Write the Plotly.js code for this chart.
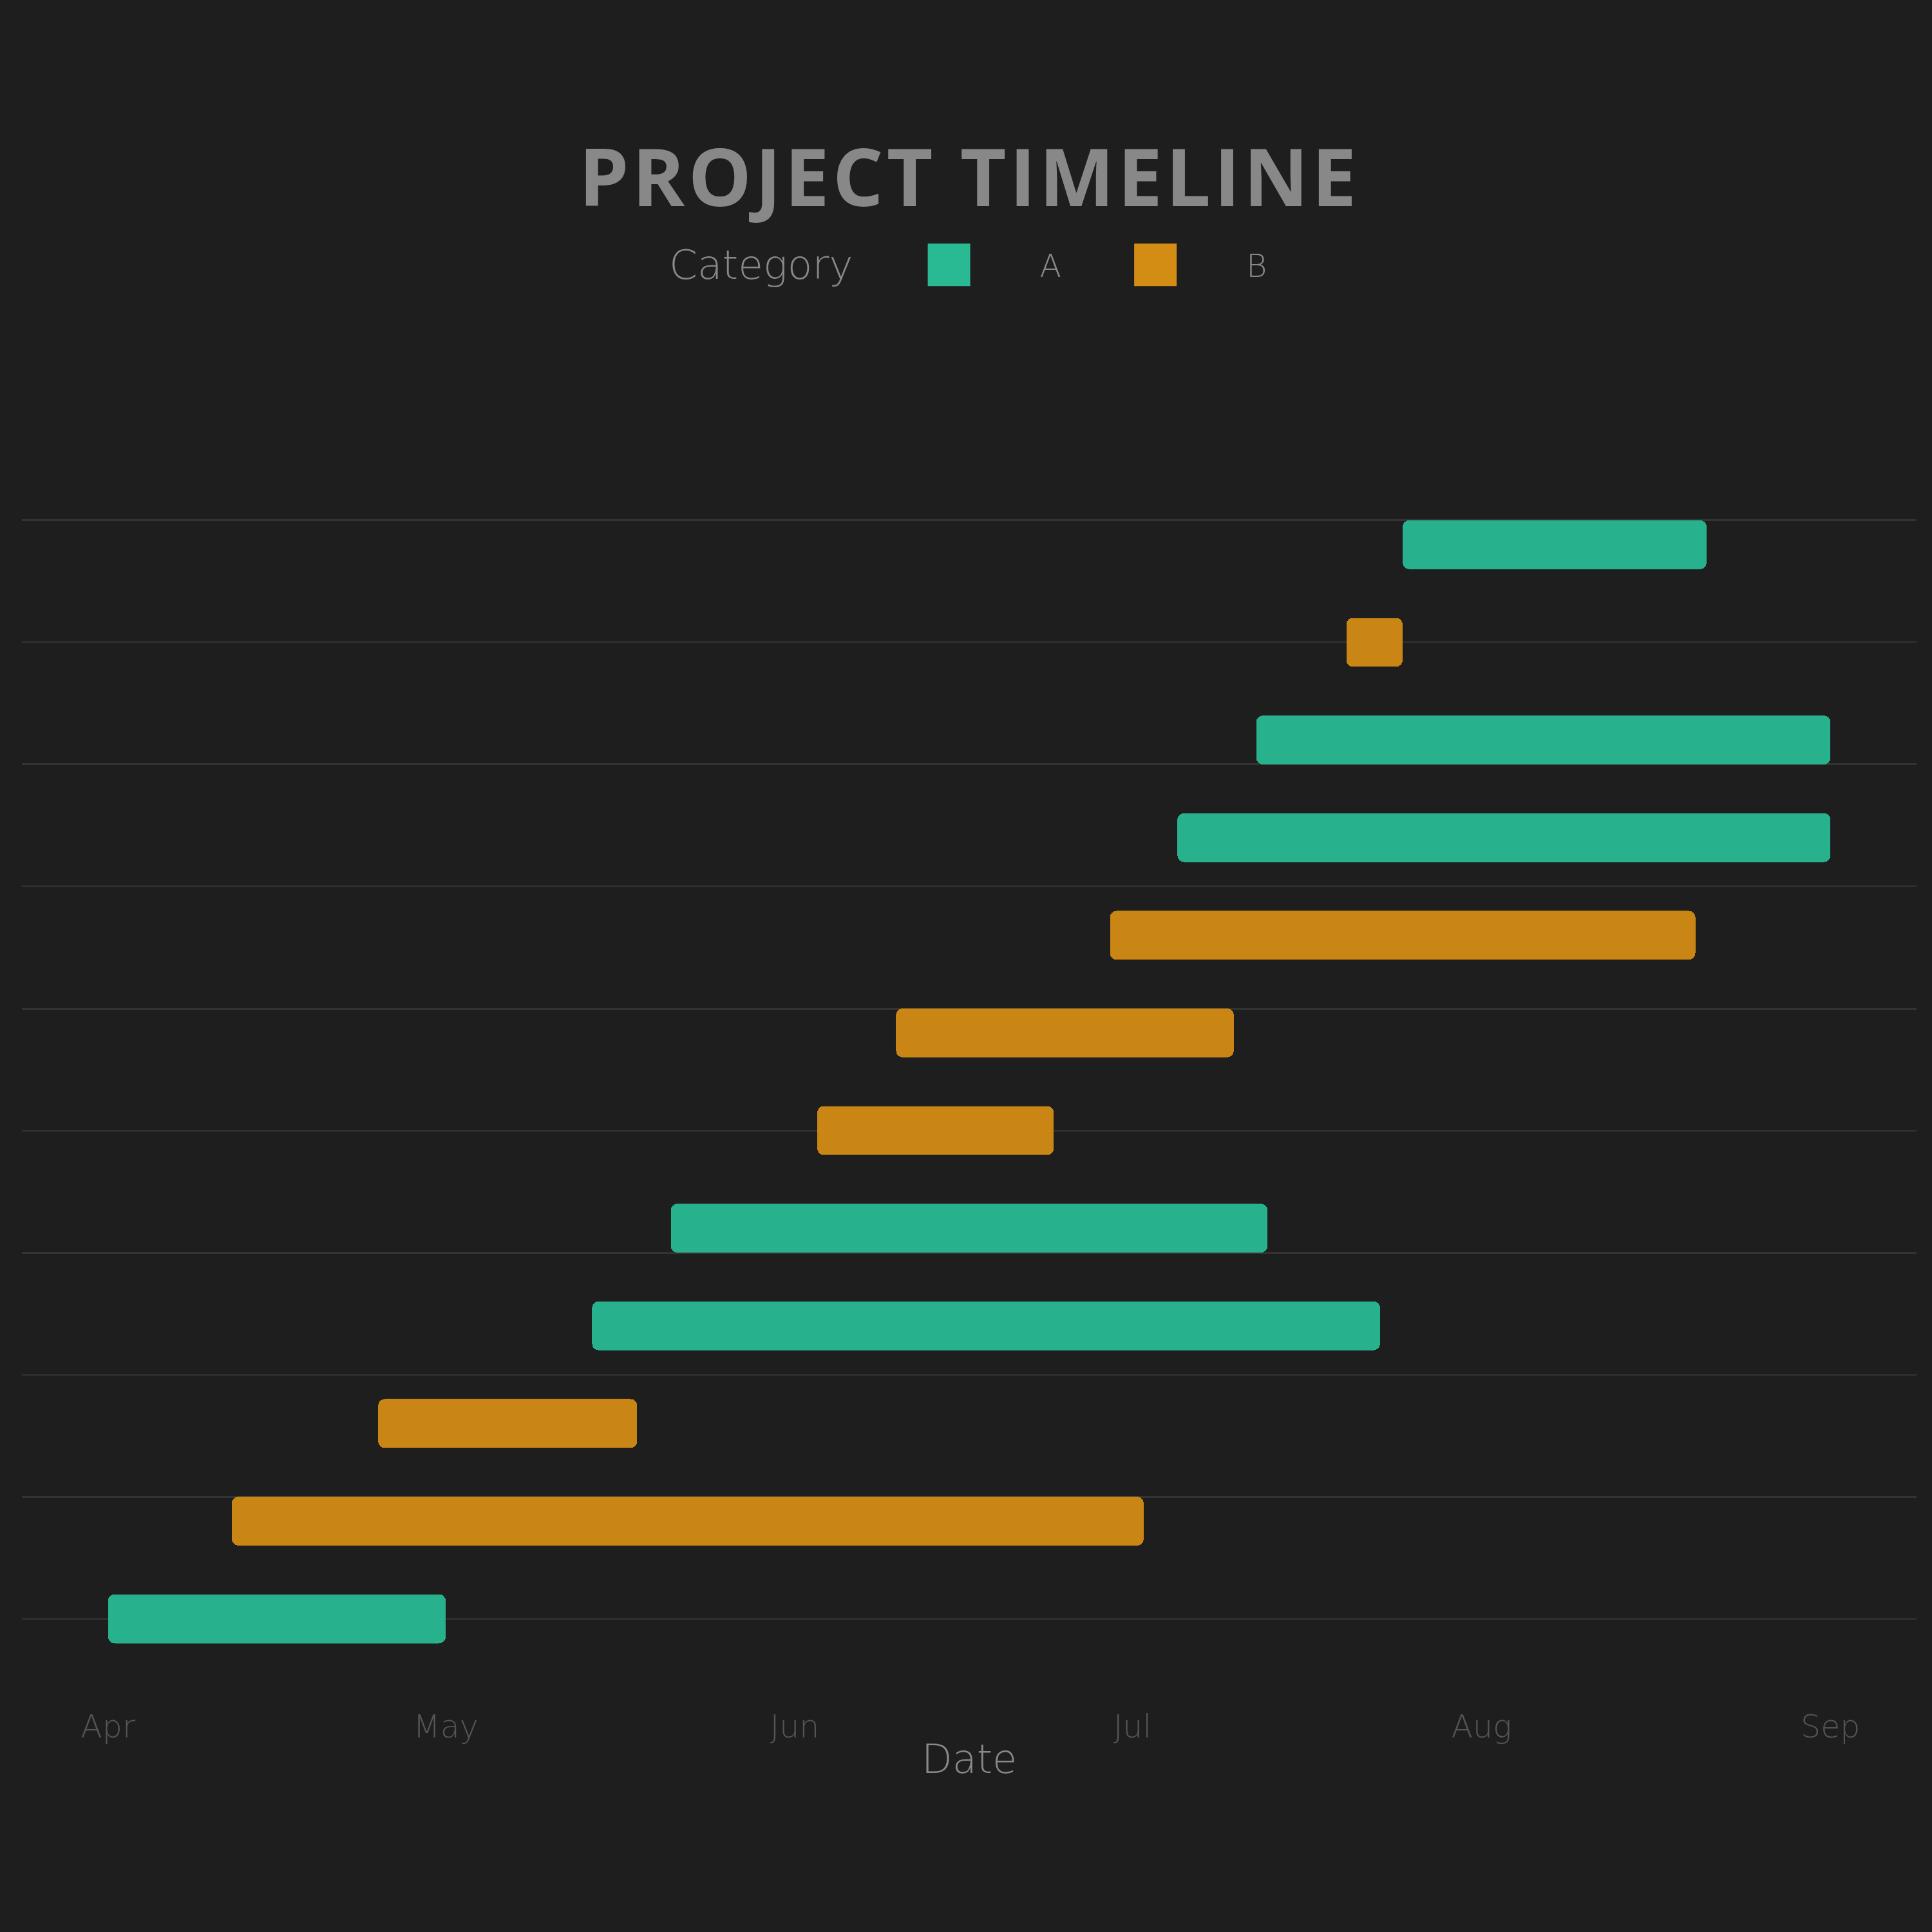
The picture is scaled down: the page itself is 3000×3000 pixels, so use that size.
<!DOCTYPE html>
<html>
<head>
<meta charset="utf-8">
<script src="https://cdn.plot.ly/plotly-3.0.1.min.js"></script>
<style>
  html, body { margin: 0; padding: 0; background: #1e1e1e; }
  #chart { width: 3000px; height: 3000px; }
</style>
</head>
<body>
<div id="chart"></div>
<script>
// ---- data (tasks listed bottom to top, ordered by start date) ----
const tasks = ['Task 1','Task 2','Task 3','Task 4','Task 5','Task 6','Task 7','Task 8','Task 9','Task 10','Task 11','Task 12'];
const startDates = ['2024-04-01','2024-04-12','2024-04-25','2024-05-14','2024-05-21','2024-06-03','2024-06-10','2024-06-29','2024-07-05','2024-07-12','2024-07-20','2024-07-25'];
const endDates   = ['2024-05-01','2024-07-02','2024-05-18','2024-07-23','2024-07-13','2024-06-24','2024-07-10','2024-08-20','2024-09-01','2024-09-01','2024-07-25','2024-08-21'];
const categories = ['A','B','B','A','A','B','B','B','A','A','B','A'];
const categoryNames = ['A','B'];
const categoryColors = {A: '#29b993', B: '#d38c14'};

function ms(d) { return Date.parse(d + 'T00:00:00Z'); }

const traces = categoryNames.map(cat => {
  const idx = tasks.map((t, i) => i).filter(i => categories[i] === cat);
  return {
    type: 'bar',
    orientation: 'h',
    name: cat,
    y: idx.map(i => i),
    base: idx.map(i => startDates[i]),
    x: idx.map(i => ms(endDates[i]) - ms(startDates[i])),
    text: idx.map(i => tasks[i]),
    textposition: 'none',
    width: 0.5,
    marker: { color: categoryColors[cat], opacity: 0.95, cornerradius: 10, line: {width: 0} },
    hovertemplate: '%{text}<extra>' + cat + '</extra>'
  };
});

const LIGHT = '"DejaVu Sans", "Open Sans", sans-serif';
const BOLD = '"Open Sans", Lato, sans-serif';

const layout = {
  width: 3000,
  height: 3000,
  paper_bgcolor: '#1e1e1e',
  plot_bgcolor: '#1e1e1e',
  margin: { l: 34, r: 24, t: 770, b: 356, pad: 0 },
  font: { family: LIGHT, color: '#888888' },
  title: {
    text: 'PROJECT TIMELINE',
    font: { family: BOLD, size: 124, color: '#888888', weight: 'bold' },
    x: 0.5, xref: 'paper', xanchor: 'center',
    y: 1 - 277 / 3000, yref: 'container', yanchor: 'middle'
  },
  showlegend: true,
  legend: {
    orientation: 'h',
    x: 0.5, xref: 'paper', xanchor: 'center',
    y: 1 - 419 / 3000, yref: 'container', yanchor: 'middle',
    title: { text: 'Category', side: 'left', font: { family: LIGHT, size: 63, color: '#888888', weight: 200 } },
    font: { family: LIGHT, size: 49, color: '#888888', weight: 200 },
    itemwidth: 272,
    bgcolor: 'rgba(0,0,0,0)',
    borderwidth: 0
  },
  xaxis: {
    type: 'date',
    range: ['2024-03-24 08:24', '2024-09-08 15:36'],
    tick0: '2024-04-01',
    dtick: 'M1',
    tickformat: '%b',
    showgrid: false,
    zeroline: false,
    showline: false,
    ticks: '',
    ticklabelstandoff: 4,
    tickfont: { family: LIGHT, size: 49, color: '#555555', weight: 200 },
    title: { text: 'Date', font: { family: LIGHT, size: 62, color: '#8a8a8a', weight: 200 }, standoff: 0 }
  },
  yaxis: {
    type: 'linear',
    range: [-0.86, 11.5],
    showticklabels: false,
    ticks: '',
    tick0: 1.25,
    dtick: 2.5,
    showgrid: true,
    gridcolor: '#333333',
    gridwidth: 3,
    minor: { tick0: 0, dtick: 1.25, showgrid: true, gridcolor: '#333333', gridwidth: 2, ticks: '' },
    zeroline: false,
    showline: false
  },
  bargap: 0
};

Plotly.newPlot('chart', traces, layout, { displayModeBar: false, staticPlot: true }).then(() => {
  document.querySelectorAll('.legend .legendpoints path').forEach(p => {
    p.setAttribute('d', 'M33,33H-33V-33H33Z');
  });
  document.querySelectorAll('.legend .legendtitletext').forEach(t => {
    t.setAttribute('transform', 'translate(0,-22)');
  });
  document.querySelectorAll('.g-gtitle .gtitle').forEach(t => {
    t.style.letterSpacing = '5px';
  });
});
</script>
</body>
</html>
